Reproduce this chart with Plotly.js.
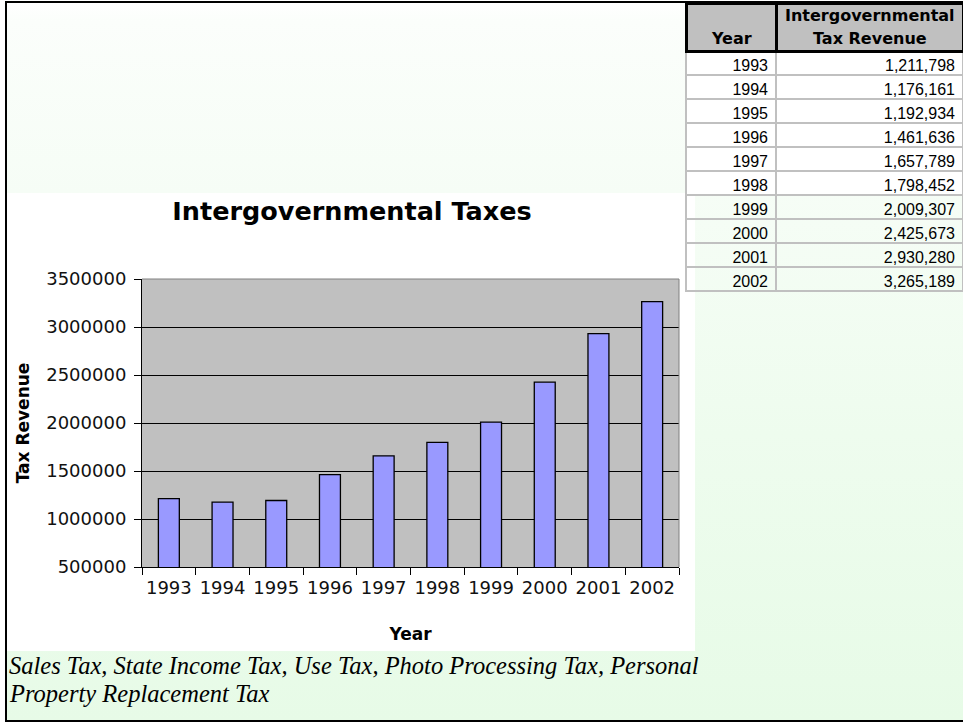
<!DOCTYPE html>
<html>
<head>
<meta charset="utf-8">
<script src="https://cdn.plot.ly/plotly-3.0.1.min.js"></script>
<style>
html,body{margin:0;padding:0;width:963px;height:723px;overflow:hidden;background:#fff;}
#frame{position:absolute;left:5px;top:1px;width:960px;height:717px;border-left:2px solid #000;border-top:2px solid #000;border-bottom:2px solid #000;
  background:linear-gradient(to bottom,#ffffff 0px,#fbfefb 18px,#f6fdf6 190px,#eefcee 430px,#e7fbe7 717px);}
#chartbg{position:absolute;left:7px;top:193px;width:688px;height:458px;background:#fff;}
#plot{position:absolute;left:0;top:0;width:963px;height:723px;}
</style>
</head>
<body>
<div id="frame"></div>
<div id="chartbg"></div>
<div id="plot"></div>
<script>
// ---- data ----
const years = ["1993","1994","1995","1996","1997","1998","1999","2000","2001","2002"];
const revenue = [1211798,1176161,1192934,1461636,1657789,1798452,2009307,2425673,2930280,3265189];
const tableHeader = ["Year","Intergovernmental<br>Tax Revenue"];
const chartTitle = "Intergovernmental Taxes";
const xTitle = "Year";
const yTitle = "Tax Revenue";
const captionLines = ["Sales Tax, State Income Tax, Use Tax, Photo Processing Tax, Personal",
                      "Property Replacement Tax"];

// ---- helpers for pixel -> paper ----
const W = 963, H = 723;
const px = x => x / W;
const py = y => 1 - y / H;

const rowFill = years.map((_, i) => i < 6 ? '#ffffff' : 'rgba(0,0,0,0)');

const bars = {
  type: 'bar', x: years, y: revenue,
  marker: {color: '#9999ff', line: {color: '#000000', width: 1.3}},
  hoverinfo: 'skip'
};

const table = {
  type: 'table',
  domain: {x: [px(686), 1], y: [py(300), py(3)]},
  columnwidth: [90, 187],
  header: {
    values: ['', ''], height: 48,
    fill: {color: '#c0c0c0'},
    line: {color: '#000000', width: 3},
    font: {family: 'DejaVu Sans', size: 14, color: '#000'}
  },
  cells: {
    values: [years, revenue],
    format: ['', ','],
    align: 'right', height: 24,
    fill: {color: [rowFill, rowFill]},
    line: {color: '#c0c0c0', width: 2},
    font: {family: 'Liberation Sans, Arial, sans-serif', size: 16, color: '#000'}
  }
};

// header text drawn as centred annotations from tableHeader
const hdrFont = {family: 'DejaVu Sans', size: 16, color: '#000'};
const hdr2 = tableHeader[1].split('<br>');
const headerAnn = [
  {x: px(731), y: py(38), text: '<b>' + tableHeader[0] + '</b>'},
  {x: px(870), y: py(15), text: '<b>' + hdr2[0] + '</b>'},
  {x: px(870), y: py(38), text: '<b>' + hdr2[1] + '</b>'}
].map(a => Object.assign(a, {xref: 'paper', yref: 'paper', xanchor: 'center', yanchor: 'middle',
                              showarrow: false, font: hdrFont}));

const captionAnn = captionLines.map((t, i) => ({
  xref: 'paper', yref: 'paper', x: px(7), y: py(i === 0 ? 665 : 693),
  xanchor: 'left', yanchor: 'middle', align: 'left', showarrow: false,
  text: '<i>' + t + '</i>',
  font: {family: 'Liberation Serif, Times New Roman, serif', size: 24.5, color: '#000'}
}));

const layout = {
  width: W, height: H,
  margin: {l: 0, r: 0, t: 0, b: 0, pad: 0},
  paper_bgcolor: 'rgba(0,0,0,0)',
  plot_bgcolor: '#c0c0c0',
  font: {family: 'DejaVu Sans', color: '#000'},
  showlegend: false,
  bargap: 0.61,
  title: {
    text: '<b>' + chartTitle + '</b>',
    x: px(352), xref: 'paper', xanchor: 'center',
    y: py(211), yref: 'paper', yanchor: 'middle',
    font: {size: 25.5, color: '#000'}
  },
  xaxis: {
    domain: [px(142), px(679)],
    type: 'category',
    tickson: 'boundaries', ticks: 'outside', ticklen: 7, tickcolor: '#000', tickwidth: 1,
    tickangle: 0, ticklabelstandoff: 4,
    showline: true, linecolor: '#000', linewidth: 1,
    showgrid: false, zeroline: false,
    tickfont: {size: 18, color: '#111'},
    title: {text: '<b>' + xTitle + '</b>', font: {size: 17}, standoff: 31}
  },
  yaxis: {
    domain: [py(567), py(279)],
    range: [500000, 3500000], dtick: 500000, tick0: 0, tickformat: 'd',
    ticks: 'outside', ticklen: 7, tickcolor: '#000', tickwidth: 1,
    showline: true, linecolor: '#000', linewidth: 1,
    showgrid: true, gridcolor: '#000', gridwidth: 1, zeroline: false,
    ticklabelstandoff: 4,
    tickfont: {size: 18, color: '#111'},
    title: {text: '<b>' + yTitle + '</b>', font: {size: 17}, standoff: 12}
  },
  shapes: [
    {type: 'line', xref: 'x domain', yref: 'y domain', x0: 0, x1: 1, y0: 1, y1: 1, line: {color: '#808080', width: 1}},
    {type: 'line', xref: 'x domain', yref: 'y domain', x0: 1, x1: 1, y0: 0, y1: 1, line: {color: '#808080', width: 1}}
  ],
  annotations: headerAnn.concat(captionAnn)
};

Plotly.newPlot('plot', [bars, table], layout, {staticPlot: true, displayModeBar: false});
</script>
</body>
</html>
